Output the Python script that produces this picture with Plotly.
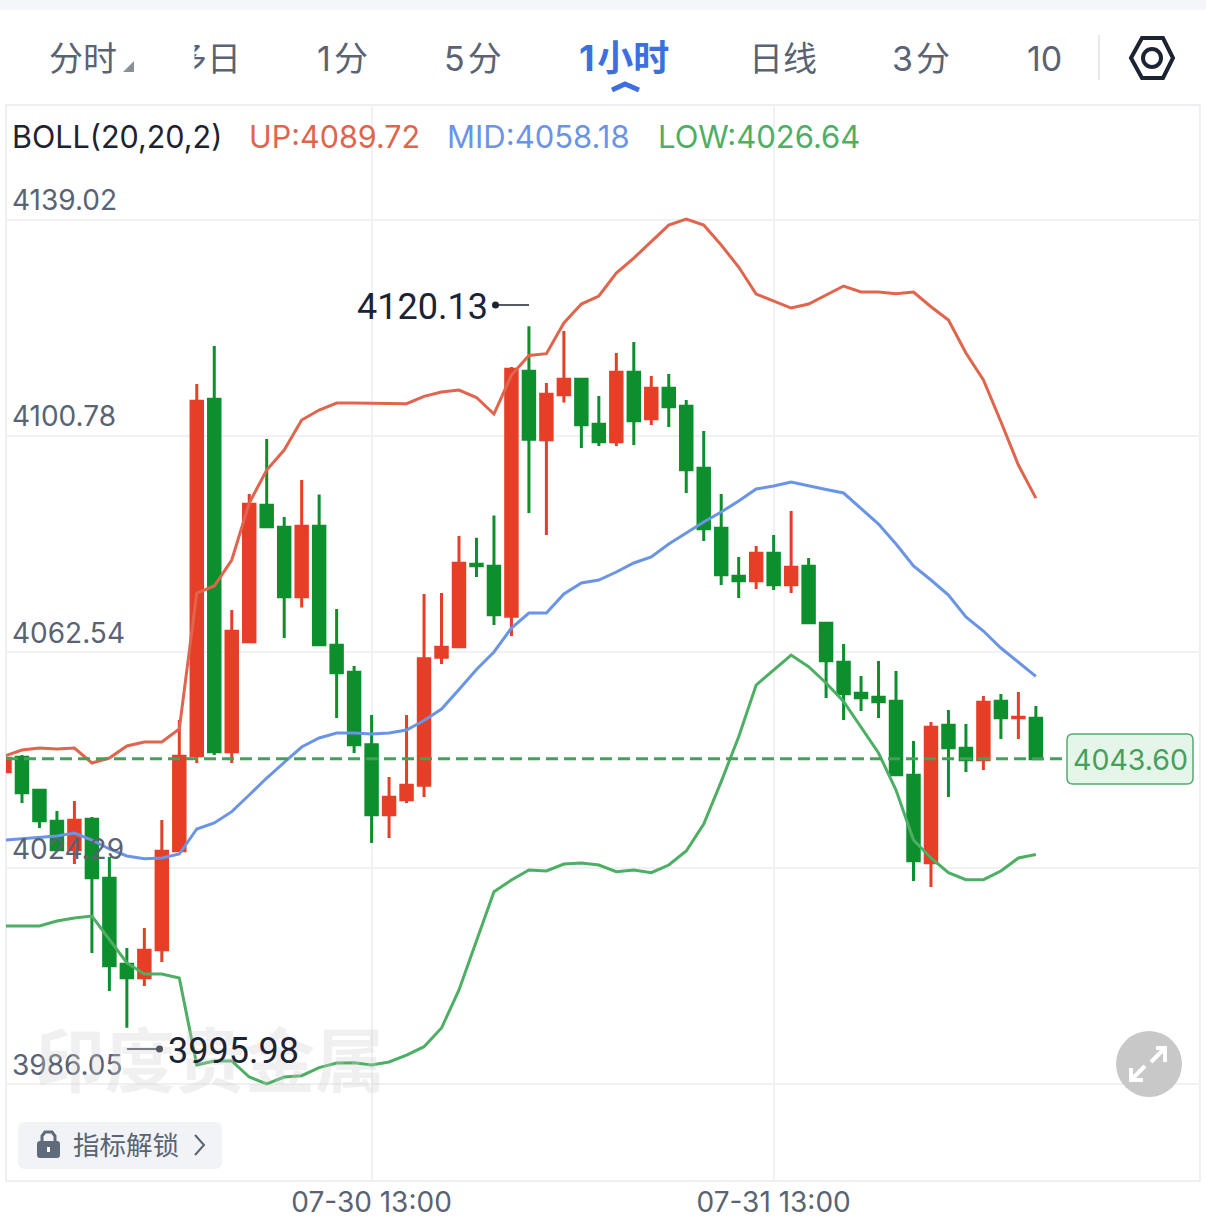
import plotly.graph_objects as go

# candles
opens = [4041.30, 4043.85, 4038.01, 4032.52, 4027.49, 4032.87, 4022.43, 4007.21, 4004.84, 4009.79,
         4027.32, 4044.13, 4107.21, 4044.84, 4064.31, 4088.45, 4084.56, 4072.27, 4084.73, 4063.67,
         4058.89, 4046.06, 4033.69, 4036.34, 4038.89, 4061.57, 4063.42, 4078.01, 4077.66, 4068.82,
         4112.17, 4100.06, 4108.03, 4110.75, 4102.79, 4099.71, 4111.99, 4103.78, 4109.16, 4105.97,
         4095.00, 4084.38, 4075.88, 4075.11, 4079.96, 4074.40, 4077.66, 4067.57, 4060.66, 4055.18,
         4054.47, 4053.76, 4040.66, 4025.19, 4049.51, 4045.44, 4043.42, 4053.76, 4050.86, 4050.75]
closes = [4043.67, 4037.58, 4032.63, 4027.49, 4032.70, 4022.54, 4006.96, 4004.84, 4009.69, 4027.21,
          4044.02, 4106.86, 4044.84, 4066.15, 4088.63, 4084.66, 4072.27, 4084.73, 4063.78, 4058.82,
          4046.08, 4033.69, 4036.77, 4038.89, 4061.28, 4063.32, 4078.19, 4077.76, 4069.09, 4112.52,
          4100.15, 4108.10, 4110.75, 4102.72, 4099.71, 4111.99, 4103.43, 4109.16, 4105.90, 4094.75,
          4084.31, 4076.17, 4075.11, 4079.96, 4074.40, 4077.48, 4067.67, 4060.95, 4055.10, 4054.40,
          4053.69, 4040.77, 4025.55, 4049.16, 4045.55, 4043.42, 4053.58, 4050.86, 4050.93, 4043.60]
highs = [4043.90, 4044.25, 4038.24, 4034.34, 4036.11, 4033.28, 4026.20, 4010.09, 4013.63, 4032.75,
         4050.45, 4109.92, 4116.65, 4069.92, 4090.45, 4100.19, 4086.38, 4092.93, 4090.35, 4070.10,
         4060.01, 4051.33, 4040.36, 4051.33, 4072.75, 4072.93, 4083.02, 4082.73, 4086.63, 4112.93,
         4120.13, 4110.10, 4119.30, 4110.98, 4107.80, 4115.41, 4117.36, 4111.34, 4111.69, 4107.09,
         4101.60, 4090.45, 4079.30, 4081.25, 4083.19, 4087.44, 4079.12, 4067.80, 4063.90, 4058.24,
         4060.89, 4059.12, 4046.73, 4050.10, 4052.22, 4049.74, 4054.70, 4055.05, 4055.41, 4052.93]
lows = [4041.07, 4035.76, 4031.33, 4027.26, 4024.96, 4009.21, 4002.48, 3995.98, 4003.37, 4007.62,
        4027.09, 4042.84, 4044.25, 4042.84, 4064.08, 4084.43, 4064.96, 4070.36, 4063.55, 4050.80,
        4044.61, 4028.68, 4029.56, 4035.76, 4036.82, 4060.36, 4063.19, 4075.76, 4067.26, 4065.32,
        4087.09, 4083.19, 4106.63, 4098.59, 4098.95, 4098.95, 4099.12, 4102.66, 4102.31, 4090.63,
        4082.13, 4074.34, 4072.04, 4073.64, 4073.46, 4072.93, 4067.44, 4054.34, 4050.45, 4052.04,
        4050.80, 4040.54, 4021.95, 4020.89, 4036.82, 4041.25, 4041.60, 4047.09, 4047.09, 4043.37]

# bollinger bands
boll_up = [4044.08, 4045.14, 4045.49, 4045.32, 4045.49, 4042.84, 4043.72, 4045.85, 4046.56, 4046.56,
           4048.86, 4072.93, 4074.17, 4078.77, 4088.86, 4094.70, 4098.24, 4103.55, 4105.32, 4106.56,
           4106.56, 4106.56, 4106.56, 4106.44, 4107.73, 4108.51, 4108.86, 4107.53, 4104.61, 4111.51,
           4114.97, 4115.29, 4120.72, 4124.08, 4125.50, 4129.57, 4132.22, 4135.06, 4138.06, 4139.13,
           4138.06, 4134.52, 4130.63, 4125.85, 4124.61, 4123.37, 4124.08, 4125.67, 4127.27, 4126.21,
           4126.21, 4125.91, 4126.21, 4123.60, 4121.25, 4115.41, 4110.63, 4103.25, 4095.58, 4089.72]
boll_mid = [4029.21, 4029.44, 4029.74, 4029.92, 4030.45, 4029.21, 4027.62, 4026.38, 4025.90, 4026.02,
            4026.73, 4031.16, 4032.22, 4034.22, 4037.17, 4040.18, 4042.93, 4045.67, 4047.26, 4048.15,
            4048.15, 4047.97, 4048.15, 4048.68, 4050.36, 4052.40, 4055.85, 4059.39, 4062.49, 4066.73,
            4069.39, 4069.39, 4072.75, 4074.70, 4075.23, 4076.65, 4078.24, 4079.30, 4081.60, 4083.55,
            4085.50, 4087.27, 4089.21, 4091.34, 4091.87, 4092.58, 4091.87, 4091.25, 4090.63, 4087.97,
            4085.14, 4081.60, 4077.71, 4075.23, 4072.57, 4068.68, 4066.20, 4063.19, 4060.72, 4058.18]
boll_low = [4013.99, 4013.99, 4013.99, 4014.87, 4015.40, 4015.76, 4011.51, 4007.44, 4005.49, 4005.49,
            4004.78, 3989.38, 3990.09, 3990.09, 3987.26, 3986.02, 3987.26, 3987.49, 3988.91, 3989.74,
            3989.79, 3989.38, 3989.92, 3991.15, 3992.62, 3995.93, 4002.66, 4011.21, 4020.06, 4022.13,
            4023.90, 4023.72, 4024.96, 4025.14, 4024.78, 4023.60, 4023.90, 4023.42, 4024.78, 4027.26,
            4032.04, 4039.53, 4047.49, 4056.64, 4059.30, 4061.95, 4059.88, 4057.00, 4053.72, 4049.26,
            4044.61, 4038.06, 4029.21, 4026.02, 4023.42, 4022.18, 4022.18, 4023.72, 4026.02, 4026.64]

price_ticks = [4139.02, 4100.78, 4062.54, 4024.29, 3986.05]
time_tick_index = [21, 44]
time_tick_labels = ["07-30 13:00", "07-31 13:00"]
last_price = 4043.60
high_label = "4120.13"
low_label = "3995.98"
tabs = ["分时", "多日", "1\u200a分", "5\u200a分", "1\u200a小时", "日线", "3\u200a分", "10"]
tab_centers = [83, 207, 342, 473, 624, 783, 921, 1044]

W, H = 1206, 1219
LEFT, RIGHT, TOP, BOTTOM = 6, 1200, 105, 1181
RED, GREEN = "#e63f27", "#0d8f2e"
GREY_TEXT = "#596373"
CJK = "Noto Sans CJK SC"
LATIN = "Inter"


# pixel positions of the page -> paper coordinates
def px(x):
    return (x - LEFT) / (RIGHT - LEFT)


def py(y):
    return (BOTTOM - y) / (BOTTOM - TOP)


def path(points, close=True):
    d = "M " + " L ".join(f"{px(x):.5f},{py(y):.5f}" for x, y in points)
    return d + " Z" if close else d


def round_rect(x0, y0, x1, y1, r):
    c = [(x0 + r, y0), (x1 - r, y0), (x1, y0 + r), (x1, y1 - r), (x1 - r, y1), (x0 + r, y1), (x0, y1 - r), (x0, y0 + r)]
    d = f"M {px(c[0][0]):.5f},{py(c[0][1]):.5f} L {px(c[1][0]):.5f},{py(c[1][1]):.5f} "
    d += f"Q {px(x1):.5f},{py(y0):.5f} {px(c[2][0]):.5f},{py(c[2][1]):.5f} "
    d += f"L {px(c[3][0]):.5f},{py(c[3][1]):.5f} Q {px(x1):.5f},{py(y1):.5f} {px(c[4][0]):.5f},{py(c[4][1]):.5f} "
    d += f"L {px(c[5][0]):.5f},{py(c[5][1]):.5f} Q {px(x0):.5f},{py(y1):.5f} {px(c[6][0]):.5f},{py(c[6][1]):.5f} "
    d += f"L {px(c[7][0]):.5f},{py(c[7][1]):.5f} Q {px(x0):.5f},{py(y0):.5f} {px(c[0][0]):.5f},{py(c[0][1]):.5f} Z"
    return d


shapes = []
annotations = []


def add_path(d, fill=None, line=None, width=0, layer="above"):
    shapes.append(dict(type="path", xref="paper", yref="paper", path=d, fillcolor=fill or "rgba(0,0,0,0)",
                       line=dict(color=line or "rgba(0,0,0,0)", width=width), layer=layer))


def add_rect(x0, y0, x1, y1, fill=None, line=None, width=0, layer="above"):
    shapes.append(dict(type="rect", xref="paper", yref="paper", x0=px(x0), x1=px(x1), y0=py(y0), y1=py(y1),
                       fillcolor=fill or "rgba(0,0,0,0)", line=dict(color=line or "rgba(0,0,0,0)", width=width),
                       layer=layer))


def note(text, x, y, size, color, anchor="center", font=LATIN, bold=False):
    annotations.append(dict(text=f"<b>{text}</b>" if bold else text, xref="paper", yref="paper", x=px(x), y=py(y),
                            xanchor=anchor, yanchor="middle", showarrow=False,
                            font=dict(size=size, color=color, family=font)))


candles = go.Candlestick(
    x=list(range(len(closes))), open=opens, high=highs, low=lows, close=closes,
    increasing=dict(line=dict(color=RED, width=3), fillcolor=RED),
    decreasing=dict(line=dict(color=GREEN, width=3), fillcolor=GREEN),
    hoverinfo="skip")

data = [candles]
for values, color in [(boll_up, "#e0654c"), (boll_mid, "#6a94e6"), (boll_low, "#4caf63")]:
    data.append(go.Scatter(x=list(range(len(values))), y=values, mode="lines",
                           line=dict(color=color, width=3), hoverinfo="skip"))

# top strip and tabs
add_rect(0, 0, W, 10, fill="#f5f6fa")
for label, center in zip(tabs, tab_centers):
    active = "小时" in label
    note(label, center, 58, 36 if active else 34, "#3d6fe0" if active else GREY_TEXT,
         font=f"{LATIN}, {CJK}", bold=active)
# the second tab is scrolled under the first one
annotations.append(dict(text=" ", xref="paper", yref="paper", x=px(138), y=py(58), xanchor="left", yanchor="middle",
                        width=53, height=50, bgcolor="white", showarrow=False))
add_path(path([(123, 72), (134, 72), (134, 61)]), fill="#8a8f98")
add_path(path([(612, 90), (625, 84), (639, 90)], close=False), line="#3d6fe0", width=5)
add_path(path([(1099, 35), (1099, 80)], close=False), line="#e8e9ed", width=2)
add_path(path([(1131, 58), (1142, 38), (1163, 38), (1173, 58), (1163, 78), (1142, 78)]), line="#1c2333", width=4)
shapes.append(dict(type="circle", xref="paper", yref="paper", x0=px(1143), x1=px(1161), y0=py(49), y1=py(67),
                   line=dict(color="#1c2333", width=4)))

# chart frame
add_rect(LEFT, TOP, RIGHT, BOTTOM, line="#e9eaee", width=1.5, layer="below")

# indicator header
note("BOLL(20,20,2)", 10, 136, 30.5, "#1c2333", "left")
note(f"UP:{boll_up[-1]}", 247, 136, 30.5, "#e0654c", "left")
note(f"MID:{boll_mid[-1]}", 445, 136, 31, "#6a94e6", "left")
note(f"LOW:{boll_low[-1]}", 656, 136, 31, "#4caf63", "left")

# watermark
annotations.insert(0, dict(text="<b>印度贵金属</b>", xref="paper", yref="paper", x=px(210), y=py(1056), xanchor="center",
                           yanchor="middle", showarrow=False,
                           font=dict(size=70, color="rgba(205,205,205,0.3)", family=CJK)))

# high / low markers
note(high_label, 355, 307, 36, "#1c2333", "left", font="Roboto")
add_path(path([(495, 305), (529, 305)], close=False), line="#1c2333", width=1.5)
shapes.append(dict(type="circle", xref="paper", yref="paper", x0=px(492), x1=px(499), y0=py(301.5), y1=py(308.5),
                   fillcolor="#1c2333", line=dict(width=0)))
note(low_label, 166, 1051, 36, "#1c2333", "left", font="Roboto")
add_path(path([(127, 1049), (160, 1049)], close=False), line="#1c2333", width=1.5)
shapes.append(dict(type="circle", xref="paper", yref="paper", x0=px(156), x1=px(163), y0=py(1045.5), y1=py(1052.5),
                   fillcolor="#1c2333", line=dict(width=0)))

# last price line and badge
shapes.append(dict(type="line", xref="paper", yref="y", x0=0, x1=px(1063), y0=last_price, y1=last_price,
                   line=dict(color="#45a05c", width=3, dash="12px,6px")))
add_path(round_rect(1067, 734, 1193, 784, 6), fill="#e6f5ea", line="#5aa870", width=1.5)
note(f"{last_price:.2f}", 1130, 759, 28.5, "#45a05c")

# unlock button
add_path(round_rect(18, 1122, 222, 1169, 7), fill="#f2f3f6")
add_path(round_rect(37, 1141, 60, 1158, 3), fill="#5f6b7a")
add_path(path([(42, 1142), (42, 1136), (45, 1132), (52, 1132), (55, 1136), (55, 1142)], close=False),
         line="#5f6b7a", width=3)
add_rect(47, 1147, 50, 1152, fill="white")
note("指标解锁", 71, 1143, 26.5, GREY_TEXT, "left", font=CJK)
add_path(path([(195, 1135), (204, 1145), (195, 1155)], close=False), line=GREY_TEXT, width=2)

# fullscreen button
shapes.append(dict(type="circle", xref="paper", yref="paper", x0=px(1116), x1=px(1182), y0=py(1031), y1=py(1097),
                   fillcolor="#c8c8c8", line=dict(width=0)))
add_path(path([(1151, 1062), (1165, 1048)], close=False), line="white", width=4)
add_path(path([(1156, 1048), (1165, 1048), (1165, 1062)], close=False), line="white", width=4)
add_path(path([(1145, 1066), (1131, 1080)], close=False), line="white", width=4)
add_path(path([(1131, 1068), (1131, 1080), (1143, 1080)], close=False), line="white", width=4)

layout = go.Layout(
    width=W, height=H,
    margin=dict(l=LEFT, r=W - RIGHT, t=TOP, b=H - BOTTOM, pad=0, autoexpand=False),
    paper_bgcolor="white", plot_bgcolor="white",
    showlegend=False, hovermode=False, boxgap=0.18, boxgroupgap=0.2,
    xaxis=dict(range=[0.086, 68.39], rangeslider=dict(visible=False), tickmode="array",
               tickvals=time_tick_index, ticktext=time_tick_labels, showgrid=True, gridcolor="#f0f1f4", gridwidth=1.5,
               showline=False, zeroline=False, ticks="", tickangle=0, ticklabelstandoff=2,
               tickfont=dict(size=28, color=GREY_TEXT, family=LATIN)),
    yaxis=dict(range=[3968.85, 4159.31], tickmode="array", tickvals=price_ticks,
               ticktext=[f"{v:.2f}" for v in price_ticks], showgrid=True, gridcolor="#f0f1f4", gridwidth=1.5,
               showline=False, zeroline=False, ticks="", ticklabelposition="inside", ticklabelshift=-19,
               ticklabelstandoff=3, tickfont=dict(size=28, color=GREY_TEXT, family=LATIN)),
    shapes=shapes, annotations=annotations)

fig = go.Figure(data=data, layout=layout)

fig.write_html("out.html", config=dict(displayModeBar=False), post_script="document.body.style.margin='0';")
